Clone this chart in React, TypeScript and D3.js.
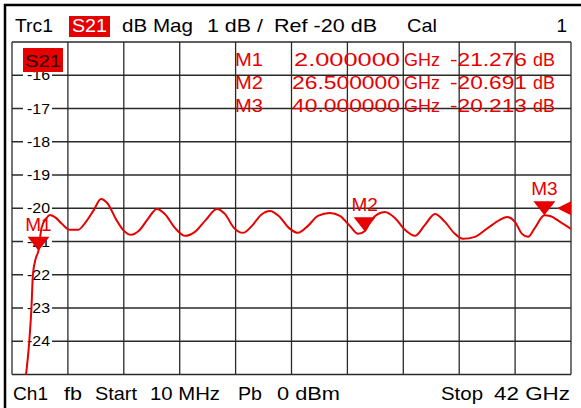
import * as d3 from 'd3'

const startGHz = 0.01
const stopGHz = 42
const refDb = -20
const dbPerDiv = 1
const yTickLabels = ['-16', '-17', '-18', '-19', '-20', '-21', '-22', '-23', '-24']
const yTickValues = [-16, -17, -18, -19, -20, -21, -22, -23, -24]

// trace
const traceFreq = [
  1.05, 1.31, 1.47, 1.58, 1.8, 2.0, 2.23, 2.61, 2.86, 3.31, 3.76, 4.36, 4.96, 5.56, 6.16, 6.69,
  7.21, 7.81, 8.42, 8.94, 9.54, 10.22, 10.89, 11.49, 12.25, 13.0, 13.75, 14.57, 15.4, 16.0,
  16.68, 17.36, 18.03, 18.71, 19.38, 20.05, 20.81, 21.49, 22.24, 22.99, 23.89, 24.64, 25.39,
  26.0, 26.5, 27.05, 28.02, 28.77, 29.53, 30.28, 31.03, 31.78, 32.53, 33.28, 33.88, 34.79,
  35.76, 36.66, 37.19, 37.79, 38.32, 38.77, 39.29, 40.0, 40.42, 41.17, 42.0,
]
const traceDb = [
  -25.05, -23.99, -23.0, -22.0, -21.5, -21.276, -20.59, -20.29, -20.2, -20.29, -20.47, -20.65,
  -20.65, -20.41, -20.05, -19.72, -19.87, -20.32, -20.68, -20.8, -20.68, -20.32, -20.02, -20.17,
  -20.59, -20.83, -20.71, -20.35, -20.02, -20.17, -20.59, -20.74, -20.53, -20.2, -20.08, -20.23,
  -20.59, -20.74, -20.53, -20.23, -20.14, -20.23, -20.53, -20.77, -20.691, -20.32, -20.11,
  -20.29, -20.65, -20.83, -20.5, -20.17, -20.41, -20.77, -20.92, -20.86, -20.59, -20.35, -20.26,
  -20.41, -20.77, -20.86, -20.59, -20.213, -20.23, -20.41, -20.62,
]

const markerNames = ['M1', 'M2', 'M3']
const markerFreq = [2.0, 26.5, 40.0]
const markerDb = [-21.276, -20.691, -20.213]
const markerFreqText = ['2.000000', '26.500000', '40.000000']
const markerDbText = ['-21.276', '-20.691', '-20.213']

const RED = '#e60000'
const GRID = '#2a2a2a'
const FONT = 'Liberation Sans, Arial, sans-serif'

// text stretched to the width it has on the analyzer screen
const T = ({ x, y, w, children, fill }: { x: number; y: number; w: number; children: string; fill?: string }) => (
  <text x={x} y={y} textLength={w} lengthAdjust="spacingAndGlyphs" fill={fill}>
    {children}
  </text>
)

export default function App() {
  const width = 581
  const height = 408
  const left = 12
  const right = 571
  const top = 42
  const bottom = 374.5

  const x = d3.scaleLinear().domain([startGHz, stopGHz]).range([left, right])
  const y = d3
    .scaleLinear()
    .domain([refDb - 5 * dbPerDiv, refDb + 5 * dbPerDiv])
    .range([bottom, top])

  const xDivs = d3.range(11).map((i) => startGHz + (i * (stopGHz - startGHz)) / 10)
  const yDivs = d3.range(11).map((i) => refDb - 5 * dbPerDiv + i * dbPerDiv)

  const trace = traceFreq.map((f, i) => [f, traceDb[i]] as [number, number])
  const line = d3
    .line<[number, number]>()
    .x((d) => x(d[0]))
    .y((d) => y(d[1]))
    .curve(d3.curveMonotoneX)

  return (
    <svg
      width={width}
      height={height}
      style={{ position: 'absolute', left: 0, top: 0, background: '#fff' }}
      fontFamily={FONT}
    >
      <defs>
        <clipPath id="plot">
          <rect x={left} y={top} width={right - left} height={bottom - top} />
        </clipPath>
      </defs>
      <rect width={width} height={height} fill="#fff" />

      {/* screen frame */}
      <line x1={5} x2={5} y1={4} y2={height} stroke="#000" strokeWidth={2.5} />
      <line x1={4} x2={width} y1={5} y2={5} stroke="#000" strokeWidth={2.5} />

      {/* header */}
      <g fontSize={19} fill="#000">
        <T x={15} y={32} w={38}>Trc1</T>
        <rect x={69} y={16} width={41} height={21} fill={RED} />
        <T x={72} y={32} w={35} fill="#fff">S21</T>
        <T x={122} y={32} w={71}>dB Mag</T>
        <T x={207} y={32} w={56}>1 dB /</T>
        <T x={274} y={32} w={103}>Ref -20 dB</T>
        <T x={407} y={32} w={30}>Cal</T>
        <text x={567} y={32} textAnchor="end">1</text>
      </g>

      {/* grid */}
      <g stroke={GRID} strokeWidth={1.3}>
        {xDivs.map((d, i) => (
          <line key={'x' + i} x1={x(d)} x2={x(d)} y1={top} y2={bottom} />
        ))}
        {yDivs.map((d, i) => (
          <line key={'y' + i} x1={left} x2={right} y1={y(d)} y2={y(d)} />
        ))}
      </g>

      {/* y labels */}
      <g fontSize={14} fill="#000">
        {yTickValues.map((v, i) => (
          <g key={v}>
            <rect x={23} y={y(v) - 6} width={29} height={12} fill="#fff" />
            <T x={27} y={y(v) + 5} w={23}>
              {yTickLabels[i]}
            </T>
          </g>
        ))}
      </g>

      {/* marker table */}
      <g fontSize={18} fill={RED}>
        {markerNames.map((m, i) => {
          const by = 66 + i * 23
          const fw = markerFreqText[i].length > 8 ? 108 : 106
          return (
            <g key={m}>
              <T x={235} y={by} w={28}>{m}</T>
              <T x={400 - fw} y={by} w={fw}>{markerFreqText[i]}</T>
              <text x={404} y={by}>GHz</text>
              <T x={450} y={by} w={77}>{markerDbText[i]}</T>
              <text x={533} y={by}>dB</text>
            </g>
          )
        })}
      </g>

      {/* trace */}
      <path
        d={line(trace) || undefined}
        fill="none"
        stroke={RED}
        strokeWidth={2}
        clipPath="url(#plot)"
      />

      {/* markers */}
      {markerNames.map((m, i) => {
        const mx = x(markerFreq[i])
        const my = y(markerDb[i])
        return (
          <g key={m} fill={RED}>
            <path d={`M${mx},${my} L${mx - 11},${my - 14} L${mx + 11},${my - 14} Z`} />
            <text x={mx} y={my - 20} fontSize={19} textAnchor="middle">
              {m}
            </text>
          </g>
        )
      })}

      {/* reference level arrow */}
      <path
        d={`M${right - 14},${y(refDb)} L${right},${y(refDb) - 7} L${right},${y(refDb) + 7} Z`}
        fill={RED}
      />

      {/* trace name */}
      <rect x={23} y={48} width={40} height={24} fill={RED} />
      <T x={25} y={67} w={36} fill="#2a0000">S21</T>

      {/* footer */}
      <g fontSize={19} fill="#000">
        <T x={13} y={400} w={35}>Ch1</T>
        <T x={64} y={400} w={18}>fb</T>
        <T x={95} y={400} w={42}>Start</T>
        <T x={150} y={400} w={70}>10 MHz</T>
        <T x={238} y={400} w={24}>Pb</T>
        <T x={277} y={400} w={63}>0 dBm</T>
        <T x={441} y={400} w={42}>Stop</T>
        <T x={494} y={400} w={76}>42 GHz</T>
      </g>
    </svg>
  )
}
